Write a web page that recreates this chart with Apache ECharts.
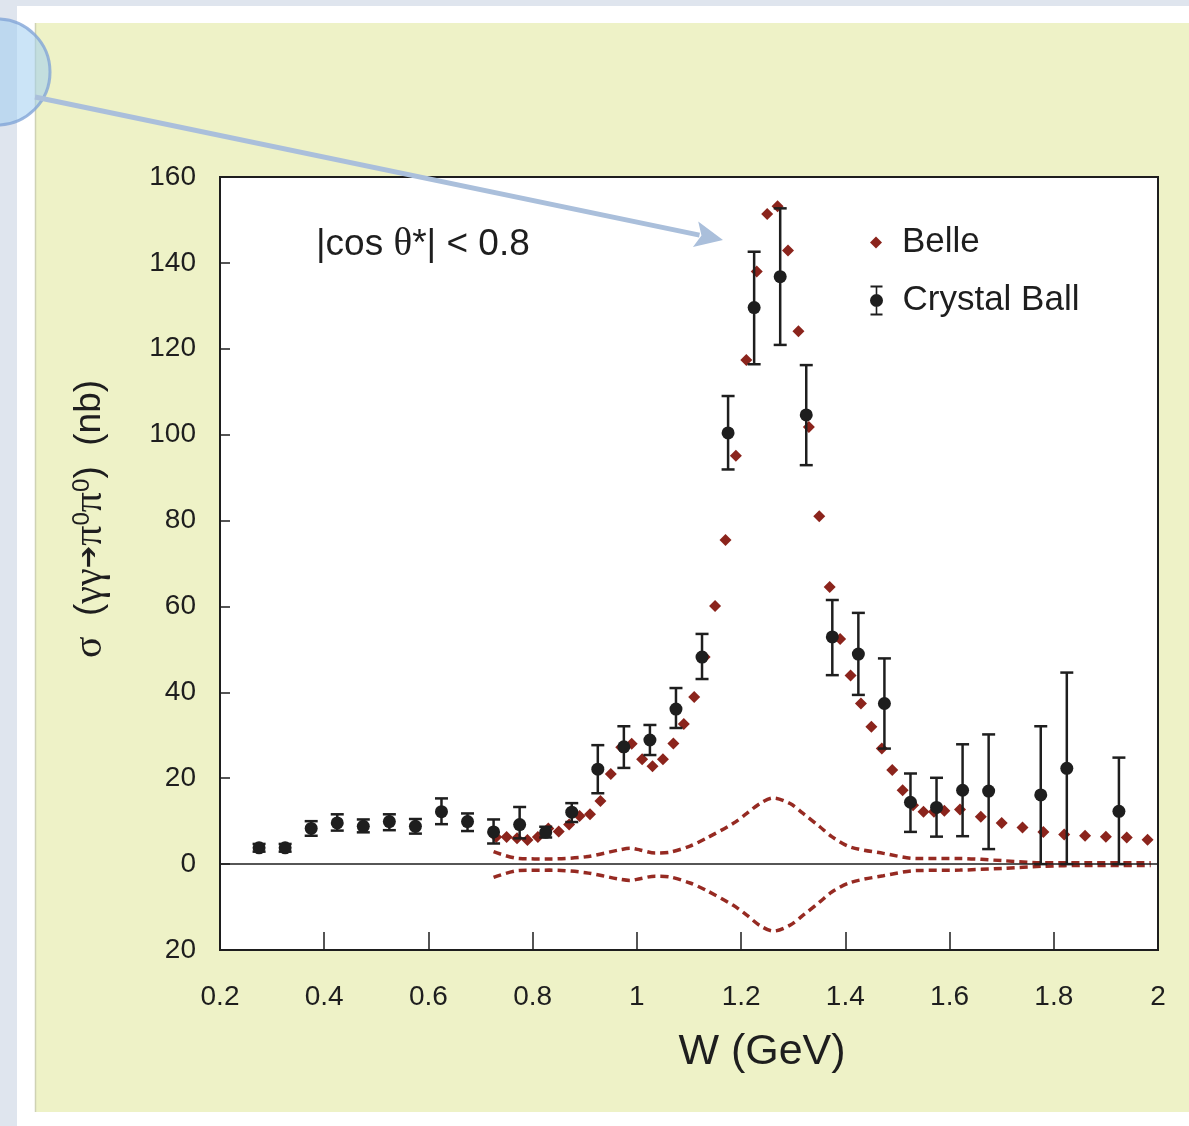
<!DOCTYPE html>
<html>
<head>
<meta charset="utf-8">
<script src="https://cdn.jsdelivr.net/npm/echarts@6/dist/echarts.min.js"></script>
<style>
  html, body { margin: 0; padding: 0; background: #ffffff; }
  #chart { width: 1189px; height: 1126px; }
</style>
</head>
<body>
<div id="chart"></div>
<script>
// γγ → π0π0 cross section, |cos θ*| < 0.8

// Belle measurement (W in GeV, σ in nb)
const belleW = [0.73, 0.75, 0.77, 0.79, 0.81, 0.83, 0.85, 0.87, 0.89, 0.91,
  0.93, 0.95, 0.97, 0.99, 1.01, 1.03, 1.05, 1.07, 1.09, 1.11,
  1.13, 1.15, 1.17, 1.19, 1.21, 1.23, 1.25, 1.27, 1.29, 1.31,
  1.33, 1.35, 1.37, 1.39, 1.41, 1.43, 1.45, 1.47, 1.49, 1.51,
  1.53, 1.55, 1.57, 1.59, 1.62, 1.66, 1.70, 1.74, 1.78, 1.82,
  1.86, 1.90, 1.94, 1.98];
const belleSigma = [6.3, 6.3, 6.0, 5.6, 6.3, 8.3, 7.6, 9.2, 11.2, 11.6,
  14.7, 21.0, 27.2, 28.0, 24.4, 22.8, 24.4, 28.1, 32.6, 38.9,
  48.2, 60.1, 75.5, 95.1, 117.4, 138.0, 151.4, 153.2, 142.9, 124.1,
  101.8, 81.0, 64.5, 52.4, 43.9, 37.4, 32.0, 26.9, 21.9, 17.2,
  13.7, 12.2, 12.2, 12.4, 12.7, 11.0, 9.6, 8.5, 7.5, 6.9,
  6.6, 6.4, 6.2, 5.7];

// Crystal Ball measurement with error bar ends
const cbW = [0.275, 0.325, 0.375, 0.425, 0.475, 0.525, 0.575, 0.625, 0.675, 0.725,
  0.775, 0.825, 0.875, 0.925, 0.975, 1.025, 1.075, 1.125, 1.175, 1.225,
  1.275, 1.325, 1.375, 1.425, 1.475, 1.525, 1.575, 1.625, 1.675, 1.775,
  1.825, 1.925];
const cbSigma = [3.8, 3.8, 8.3, 9.6, 8.8, 9.9, 8.8, 12.2, 9.9, 7.5,
  9.2, 7.4, 12.1, 22.1, 27.3, 28.9, 36.1, 48.2, 100.4, 129.6,
  136.8, 104.6, 52.9, 48.9, 37.4, 14.4, 13.2, 17.2, 17.0, 16.1,
  22.3, 12.3];
const cbLow = [2.9, 2.9, 6.6, 7.8, 7.4, 7.9, 7.1, 9.3, 7.7, 4.8,
  6.0, 6.2, 9.8, 16.5, 22.4, 25.4, 31.7, 43.1, 91.9, 116.4,
  120.9, 92.9, 44.0, 39.4, 26.9, 7.5, 6.4, 6.5, 3.5, 0.0,
  0.0, 0.0];
const cbHigh = [4.7, 4.7, 10.0, 11.6, 10.4, 11.6, 10.5, 15.3, 11.8, 10.4,
  13.3, 8.7, 14.2, 27.7, 32.1, 32.4, 41.0, 53.6, 109.0, 142.6,
  152.7, 116.2, 61.5, 58.5, 47.9, 21.1, 20.1, 27.9, 30.2, 32.1,
  44.6, 24.8];

// Systematic error band (upper and lower edges)
const bandW = [0.725, 0.774, 0.832, 0.902, 0.966, 0.987, 1.006, 1.035, 1.064, 1.102,
  1.133, 1.185, 1.211, 1.236, 1.262, 1.294, 1.319, 1.351, 1.374, 1.409,
  1.473, 1.537, 1.620, 1.702, 1.780, 1.860, 1.986];
const bandUpper = [2.9, 1.3, 1.2, 1.7, 3.3, 3.7, 3.3, 2.6, 2.8, 4.2,
  6.0, 9.5, 11.8, 14.1, 15.4, 14.1, 11.8, 8.7, 6.4, 4.0,
  2.5, 1.3, 1.3, 0.8, 0.3, 0.3, 0.3];
const bandLower = [-3.1, -1.5, -1.4, -2.0, -3.5, -3.8, -3.4, -2.8, -3.0, -4.4,
  -6.1, -9.6, -11.9, -14.3, -15.6, -14.2, -11.9, -8.8, -6.5, -4.3,
  -2.7, -1.5, -1.4, -1.0, -0.5, -0.3, -0.3];

// Axis tick settings
const xMin = 0.2, xMax = 2.0, xStep = 0.2;
const yMin = -20, yMax = 160, yStep = 20;

const FONT = 'Liberation Sans, Arial, Helvetica, sans-serif';
const SERIF = 'Liberation Serif, Times New Roman, serif';
const INK = '#1e1e1e';
const BELLE_RED = '#8b241c';
const BAND_RED = '#962a22';

const belleData = belleW.map((w, i) => [w, belleSigma[i]]);
const cbData = cbW.map((w, i) => [w, cbSigma[i]]);
const cbErr = cbW.map((w, i) => [w, cbLow[i], cbHigh[i]]);
const upperData = bandW.map((w, i) => [w, bandUpper[i]]);
const lowerData = bandW.map((w, i) => [w, bandLower[i]]);

// Arrow from the callout circle into the peak region
const arrowStart = [35, 97];
const arrowTip = [723, 240];
const ang = Math.atan2(arrowTip[1] - arrowStart[1], arrowTip[0] - arrowStart[0]);
const headLen = 28, headHalf = 13;
const ux = Math.cos(ang), uy = Math.sin(ang);
const base = [arrowTip[0] - ux * headLen, arrowTip[1] - uy * headLen];
const headPts = [
  arrowTip,
  [base[0] - uy * headHalf, base[1] + ux * headHalf],
  [base[0] + ux * 6, base[1] + uy * 6],
  [base[0] + uy * headHalf, base[1] - ux * headHalf]
];

const chart = echarts.init(document.getElementById('chart'), null, { renderer: 'canvas' });

const cbIcon = 'path://M1,0H13V2H1Z M6.2,0H7.8V30H6.2Z M1,28H13V30H1Z M13.5,15 A6.5,6.5 0 1 1 0.5,15 A6.5,6.5 0 1 1 13.5,15 Z';

chart.setOption({
  backgroundColor: '#ffffff',
  animation: false,
  textStyle: { fontFamily: FONT },
  graphic: [
    // slide backdrop
    { type: 'rect', z: -20, shape: { x: 0, y: 0, width: 1189, height: 6 }, style: { fill: '#dfe5ee' } },
    { type: 'rect', z: -20, shape: { x: 0, y: 0, width: 17, height: 1126 }, style: { fill: '#dfe5ee' } },
    // pale yellow panel
    { type: 'rect', z: -15, shape: { x: 35, y: 23, width: 1154, height: 1089 }, style: { fill: '#eef2c7' } },
    { type: 'line', z: -14, shape: { x1: 35.5, y1: 23, x2: 35.5, y2: 1112 }, style: { stroke: '#cfd2b4', lineWidth: 1.5 } },
    // callout circle
    { type: 'circle', z: 50, shape: { cx: -3, cy: 72, r: 53 },
      style: { fill: 'rgba(160,205,240,0.55)', stroke: 'rgba(130,165,215,0.8)', lineWidth: 3 } },
    // arrow
    { type: 'line', z: 50, shape: { x1: arrowStart[0], y1: arrowStart[1], x2: base[0] + ux * 4, y2: base[1] + uy * 4 },
      style: { stroke: '#aabfdb', lineWidth: 5 } },
    { type: 'polygon', z: 50, shape: { points: headPts }, style: { fill: '#aabfdb' } },
    // y-axis title
    { type: 'text', z: 10, x: 90, y: 519, rotation: Math.PI / 2,
      style: {
        text: '{g|σ}  ({g|γγ}{a|➔}{g|π}{s|0}{g|π}{s|0})  (nb)',
        align: 'center', verticalAlign: 'middle',
        font: '37px ' + FONT, fill: INK,
        rich: {
          g: { fontFamily: SERIF, fontSize: 40, fill: INK },
          a: { fontFamily: 'DejaVu Sans', fontSize: 27, fill: INK },
          s: { fontSize: 24, verticalAlign: 'top', fill: INK }
        }
      } },
    // x-axis title
    { type: 'text', z: 10, x: 762, y: 1052,
      style: { text: 'W (GeV)', align: 'center', verticalAlign: 'middle', font: '43px ' + FONT, fill: INK } },
    // cut annotation
    { type: 'text', z: 10, x: 316, y: 245,
      style: {
        text: '|cos {g|θ}*| < 0.8', align: 'left', verticalAlign: 'middle',
        font: '37px ' + FONT, fill: INK,
        rich: { g: { fontFamily: SERIF, fontSize: 39, fill: INK } }
      } }
  ],
  legend: [
    {
      data: [{ name: 'Belle', icon: 'diamond' }],
      left: 865, top: 220, orient: 'vertical',
      itemWidth: 12, itemHeight: 12, selectedMode: false,
      textStyle: { fontSize: 35, color: INK, fontFamily: FONT, padding: [0, 0, 0, 15] }
    },
    {
      data: [{ name: 'Crystal Ball', icon: cbIcon }],
      left: 865, top: 278, orient: 'vertical',
      itemWidth: 14, itemHeight: 30, selectedMode: false,
      textStyle: { fontSize: 35, color: INK, fontFamily: FONT, padding: [0, 0, 0, 14] }
    }
  ],
  grid: {
    left: 220, right: 31, top: 177, bottom: 176,
    show: true, backgroundColor: '#ffffff', borderColor: INK, borderWidth: 2
  },
  xAxis: {
    type: 'value', min: xMin, max: xMax, interval: xStep,
    axisLine: { show: true, onZero: false, lineStyle: { color: INK, width: 2 } },
    axisTick: { show: true, inside: true, length: 18, lineStyle: { color: INK, width: 1.5 } },
    axisLabel: {
      color: INK, fontSize: 28, margin: 33, fontFamily: FONT,
      formatter: v => String(+v.toFixed(1))
    },
    splitLine: { show: false }
  },
  yAxis: {
    type: 'value', min: yMin, max: yMax, interval: yStep,
    axisLine: { show: true, onZero: false, lineStyle: { color: INK, width: 2 } },
    axisTick: { show: true, inside: true, length: 10, lineStyle: { color: INK, width: 1.5 } },
    axisLabel: {
      color: INK, fontSize: 28, margin: 24, fontFamily: FONT,
      formatter: v => String(Math.abs(v))
    },
    splitLine: { show: false }
  },
  series: [
    {
      name: 'band-upper', type: 'line', data: upperData, smooth: 0.3,
      showSymbol: false, silent: true, z: 2,
      lineStyle: { color: BAND_RED, width: 3.5, type: [8, 5] }
    },
    {
      name: 'band-lower', type: 'line', data: lowerData, smooth: 0.3,
      showSymbol: false, silent: true, z: 2,
      lineStyle: { color: BAND_RED, width: 3.5, type: [8, 5] }
    },
    {
      name: 'Belle', type: 'scatter', data: belleData, symbol: 'diamond', symbolSize: 12,
      itemStyle: { color: BELLE_RED, opacity: 1 }, z: 4,
      markLine: {
        silent: true, symbol: 'none', label: { show: false },
        lineStyle: { color: INK, width: 1.5, type: 'solid' },
        data: [{ yAxis: 0 }]
      }
    },
    {
      name: 'cb-errors', type: 'custom', data: cbErr, z: 5, silent: true,
      renderItem: (params, api) => {
        const x = api.value(0);
        const lo = api.coord([x, api.value(1)]);
        const hi = api.coord([x, api.value(2)]);
        const hw = 6.5;
        const st = { stroke: INK, lineWidth: 2.5 };
        return {
          type: 'group',
          children: [
            { type: 'line', shape: { x1: lo[0], y1: lo[1], x2: hi[0], y2: hi[1] }, style: st },
            { type: 'line', shape: { x1: hi[0] - hw, y1: hi[1], x2: hi[0] + hw, y2: hi[1] }, style: st },
            { type: 'line', shape: { x1: lo[0] - hw, y1: lo[1], x2: lo[0] + hw, y2: lo[1] }, style: st }
          ]
        };
      }
    },
    {
      name: 'Crystal Ball', type: 'scatter', data: cbData, symbol: 'circle', symbolSize: 13,
      itemStyle: { color: INK, opacity: 1 }, z: 6
    }
  ]
});
</script>
</body>
</html>
